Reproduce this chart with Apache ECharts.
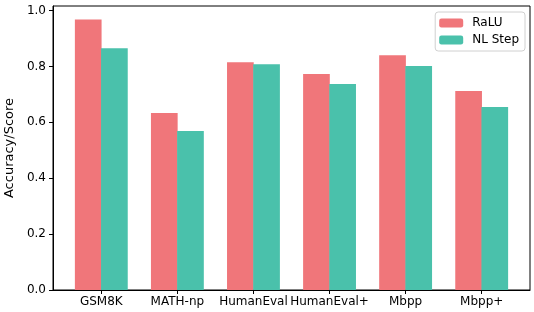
<!DOCTYPE html>
<html>
<head>
<meta charset="utf-8">
<script src="https://cdn.jsdelivr.net/npm/echarts@6/dist/echarts.min.js"></script>
<style>
  html, body { margin: 0; padding: 0; background: #fff; }
  #chart { width: 534px; height: 312px; }
</style>
</head>
<body>
<div id="chart"></div>
<script>
const categories = ['GSM8K', 'MATH-np', 'HumanEval', 'HumanEval+', 'Mbpp', 'Mbpp+'];
const raluValues = [0.968, 0.633, 0.815, 0.773, 0.840, 0.712];
const nlStepValues = [0.865, 0.569, 0.808, 0.737, 0.801, 0.655];
const yTicks = [0, 0.2, 0.4, 0.6, 0.8, 1.0];

const FONT = 'DejaVu Sans';
const chart = echarts.init(document.getElementById('chart'));

const toPoints = vals => vals.map((v, i) => [i, v]);

chart.setOption({
  animation: false,
  textStyle: { fontFamily: FONT },
  grid: {
    left: 53, right: 4, top: 6, bottom: 22,
    outerBoundsMode: 'none',
    show: true, borderColor: '#000', borderWidth: 1
  },
  legend: {
    orient: 'vertical',
    right: 9, top: 12,
    itemWidth: 24, itemHeight: 9, itemGap: 5,
    padding: [5, 6, 5, 4],
    borderColor: '#d0d0d0', borderWidth: 1, borderRadius: 3,
    backgroundColor: '#fff',
    textStyle: { fontFamily: FONT, fontSize: 12, color: '#000', padding: [0, 0, 0, 4] },
    data: ['RaLU', 'NL Step']
  },
  xAxis: {
    type: 'value',
    min: -0.635, max: 5.635,
    splitLine: { show: false },
    axisLine: { onZero: false, lineStyle: { color: '#000', width: 1 } },
    axisTick: { show: true, length: 4, customValues: categories.map((c, i) => i), lineStyle: { color: '#000' } },
    axisLabel: {
      customValues: categories.map((c, i) => i),
      formatter: v => categories[Math.round(v)],
      color: '#000', fontSize: 12, fontFamily: FONT, margin: 6
    }
  },
  yAxis: {
    type: 'value',
    min: 0, max: 1.016,
    name: 'Accuracy/Score',
    nameLocation: 'middle',
    nameGap: 27,
    nameTextStyle: { fontFamily: FONT, fontSize: 13, color: '#000' },
    splitLine: { show: false },
    axisLine: { show: true, onZero: false, lineStyle: { color: '#000', width: 1 } },
    axisTick: { show: true, length: 4, customValues: yTicks, lineStyle: { color: '#000' } },
    axisLabel: {
      customValues: yTicks,
      formatter: v => v.toFixed(1),
      color: '#000', fontSize: 12, fontFamily: FONT, margin: 7
    }
  },
  series: [
    {
      name: 'RaLU', type: 'bar',
      data: toPoints(raluValues),
      barWidth: 26.7, barGap: '-2%',
      itemStyle: { color: '#F0767A' }
    },
    {
      name: 'NL Step', type: 'bar',
      data: toPoints(nlStepValues),
      barWidth: 26.7, barGap: '-2%',
      itemStyle: { color: '#4AC1AB' }
    }
  ]
});
</script>
</body>
</html>
